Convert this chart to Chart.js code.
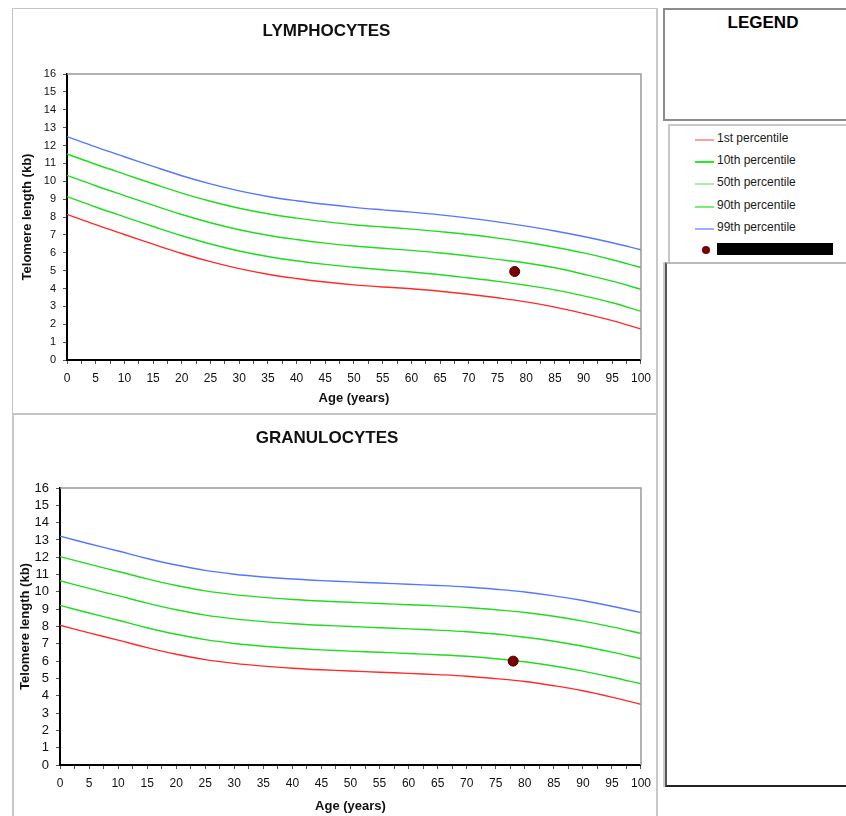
<!DOCTYPE html>
<html>
<head>
<meta charset="utf-8">
<script src="https://cdn.jsdelivr.net/npm/chart.js@4/dist/chart.umd.min.js"></script>
<style>
  html, body { margin:0; padding:0; background:#fff; width:846px; height:816px; overflow:hidden; font-family:"Liberation Sans", Arial, sans-serif; }
  .box { position:absolute; box-sizing:border-box; }
  #p1 { left:12px; top:8px; width:646px; height:406px; border:1px solid #c4c4c4; border-right:2px solid #c8c8c8; }
  #p2 { left:12px; top:414px; width:646px; height:410px; border:1px solid #c4c4c4; border-left:2px solid #c8c8c8; border-right:2px solid #c8c8c8; }
  #c1wrap { left:12px; top:8px; width:646px; height:406px; }
  #c2wrap { left:12px; top:414px; width:646px; height:402px; }
  #legTitle { left:663px; top:8px; width:190px; height:113px; border:2px solid #8c8c8c; border-right:none; text-align:center; font-weight:bold; font-size:17px; color:#000; }
  #legTitle span { position:absolute; left:0; width:196px; top:3px; text-align:center; }
  #legBox { left:668px; top:124px; width:185px; height:139px; border:2px solid #c8c8c8; border-right:none; border-bottom:none; }
  #blank { left:665px; top:262px; width:190px; height:525px; border-top:2px solid #bbb; border-left:2px solid #555; border-bottom:2px solid #222; box-shadow:-2px 0 0 #ccc; }
  .row { position:absolute; left:0; height:14px; font-size:12px; color:#1a1a1a; white-space:nowrap; }
  .row .ln { position:absolute; left:25px; top:7px; width:19px; height:1.5px; }
  .row .tx { position:absolute; left:47px; top:-1px; }
  .dot { position:absolute; left:32px; top:3px; width:8px; height:8px; border-radius:50%; background:#7a0000; }
  .redact { position:absolute; left:47px; top:0px; width:116px; height:12px; background:#000; color:#000; font-size:11px; line-height:12px; overflow:hidden; }
</style>
</head>
<body>
<div class="box" id="p1"></div>
<div class="box" id="p2"></div>
<div class="box" id="c1wrap"><canvas id="c1" width="646" height="406"></canvas></div>
<div class="box" id="c2wrap"><canvas id="c2" width="646" height="402"></canvas></div>
<div class="box" id="legTitle"><span>LEGEND</span></div>
<div class="box" id="legBox"></div>
<div class="box" id="blank"></div>
<script>
// ---------- DATA ----------
const ages = [0,5,10,15,20,25,30,35,40,45,50,55,60,65,70,75,80,85,90,95,100];
const xTickValues = [0,5,10,15,20,25,30,35,40,45,50,55,60,65,70,75,80,85,90,95,100];
const yTickValues = [0,1,2,3,4,5,6,7,8,9,10,11,12,13,14,15,16];

const seriesNames = ["1st percentile","10th percentile","50th percentile","90th percentile","99th percentile"];
const patientLabel = "Patient";

// Lymphocytes (kb)
const lymP1  = [8.15,7.57,7.02,6.48,5.96,5.50,5.11,4.80,4.56,4.36,4.20,4.08,3.99,3.85,3.68,3.48,3.25,2.96,2.60,2.20,1.73];
const lymP10 = [9.14,8.56,8.01,7.47,6.95,6.49,6.10,5.79,5.55,5.35,5.19,5.05,4.92,4.77,4.59,4.40,4.18,3.92,3.59,3.20,2.73];
const lymP50 = [10.33,9.75,9.20,8.66,8.14,7.68,7.29,6.98,6.74,6.54,6.38,6.25,6.13,5.99,5.82,5.63,5.43,5.16,4.80,4.41,3.96];
const lymP90 = [11.53,10.95,10.40,9.86,9.34,8.88,8.49,8.18,7.94,7.74,7.57,7.44,7.32,7.18,7.02,6.82,6.59,6.31,5.99,5.61,5.17];
const lymP99 = [12.50,11.92,11.37,10.83,10.31,9.85,9.46,9.15,8.91,8.71,8.54,8.40,8.27,8.12,7.94,7.73,7.49,7.22,6.91,6.56,6.17];
const lymPatientAge = [78];
const lymPatientValue = [4.95];

// Granulocytes (kb)
const graP1  = [8.07,7.63,7.21,6.78,6.40,6.09,5.87,5.71,5.59,5.50,5.43,5.36,5.29,5.22,5.13,4.99,4.82,4.58,4.29,3.92,3.50];
const graP10 = [9.22,8.78,8.36,7.93,7.55,7.24,7.02,6.86,6.74,6.65,6.58,6.51,6.44,6.37,6.28,6.14,5.96,5.72,5.42,5.07,4.69];
const graP50 = [10.64,10.20,9.78,9.35,8.97,8.66,8.44,8.28,8.16,8.07,8.00,7.93,7.86,7.79,7.70,7.57,7.38,7.15,6.86,6.52,6.14];
const graP90 = [12.04,11.60,11.18,10.75,10.37,10.06,9.84,9.68,9.56,9.47,9.40,9.33,9.26,9.19,9.10,8.97,8.81,8.59,8.31,7.98,7.60];
const graP99 = [13.22,12.78,12.36,11.93,11.55,11.24,11.02,10.86,10.74,10.65,10.58,10.51,10.44,10.37,10.28,10.15,9.99,9.77,9.50,9.17,8.80];
const graPatientAge = [78];
const graPatientValue = [6.0];

// ---------- STYLE ----------
const lineColors = ["#ff2b2b","#1fdc1f","#1fdc1f","#1fdc1f","#5577ff"];
const legendColors = ["#ffa0a0","#22ee22","#a6f2a6","#78ee78","#a0acff"];
const FONT = '"Liberation Sans", Arial, sans-serif';

// legend (HTML)
(function(){
  const box = document.getElementById('legBox');
  const rowsY = [6, 28, 50, 73, 95];
  seriesNames.forEach((n,i)=>{
    const r = document.createElement('div'); r.className='row'; r.style.top = rowsY[i]+'px';
    r.innerHTML = '<div class="ln" style="background:'+legendColors[i]+'"></div><div class="tx">'+n+'</div>';
    box.appendChild(r);
  });
  const r = document.createElement('div'); r.className='row'; r.style.top='117px';
  r.innerHTML = '<div class="dot"></div><div class="redact">'+patientLabel+'</div>';
  box.appendChild(r);
})();

const frame = {
  id:'frame',
  afterDatasetsDraw(chart){
    const {ctx, chartArea:a} = chart;
    ctx.save();
    ctx.strokeStyle = '#9a9a9a'; ctx.lineWidth = 1.5;
    ctx.beginPath();
    ctx.moveTo(a.left, a.top); ctx.lineTo(a.right, a.top); ctx.lineTo(a.right, a.bottom);
    ctx.stroke();
    ctx.restore();
  }
};

function makeChart(id, title, p1, p10, p50, p90, p99, pAge, pVal, g) {
  const series = [p1,p10,p50,p90,p99];
  const datasets = series.map((s,i)=>({
    type:'line', label: seriesNames[i],
    data: ages.map((a,k)=>({x:a, y:s[k]})),
    borderColor: lineColors[i], borderWidth: 1.4, pointRadius: 0,
    tension: 0.4, fill:false, order: 2
  }));
  datasets.push({
    type:'scatter', label: patientLabel,
    data: pAge.map((a,k)=>({x:a, y:pVal[k]})),
    backgroundColor:'#7a0000', borderColor:'#4a0000', borderWidth:1,
    pointRadius:5, order: 1
  });
  return new Chart(document.getElementById(id), {
    data: { datasets },
    plugins: [frame],
    options: {
      responsive:false, animation:false,
      layout: { padding: { left:0, right:g.padRight, top:0, bottom:g.padBottom } },
      plugins: {
        legend: { display:false }, tooltip: { enabled:false },
        title: { display:true, text:title, color:'#111',
          font:{ family:FONT, size:17, weight:'bold' },
          padding:{ top:g.titleTop, bottom:g.titleBottom } }
      },
      scales: {
        x: { type:'linear', min:0, max:100,
          afterBuildTicks(s){ s.ticks = []; for (let v=0; v<=100; v+=2.5) s.ticks.push({value:v}); },
          afterFit(s){ s.height = g.xH; },
          ticks:{ autoSkip:false, maxRotation:0, padding:7, color:'#111',
            font:{family:FONT, size:12},
            callback:(v)=> xTickValues.includes(v) ? String(v) : '' },
          grid:{ drawOnChartArea:false, drawTicks:true, tickLength:4, color:'#555' },
          border:{ display:true, color:'#000', width:2 },
          title:{ display:true, text:'Age (years)', color:'#111',
            font:{family:FONT, size:13, weight:'bold'}, padding:{top:0,bottom:2} } },
        y: { type:'linear', min:0, max:16,
          afterBuildTicks(s){ s.ticks = yTickValues.map(v=>({value:v})); },
          afterFit(s){ s.width = g.yW; },
          ticks:{ autoSkip:false, padding:g.yPad, color:'#111',
            font:{family:FONT, size:g.yFont} },
          grid:{ drawOnChartArea:false, drawTicks:true, tickLength:4, color:'#555' },
          border:{ display:true, color:'#000', width:2 },
          title:{ display:true, text:'Telomere length (kb)', color:'#111',
            font:{family:FONT, size:13, weight:'bold'}, padding:{top:g.yTitleTop, bottom:0} } }
      }
    }
  });
}

makeChart('c1', 'LYMPHOCYTES', lymP1, lymP10, lymP50, lymP90, lymP99, lymPatientAge, lymPatientValue,
  { padRight:17, padBottom:6, titleTop:13, titleBottom:32.6, xH:48, yW:55, yPad:7, yFont:11, yTitleTop:8 });
makeChart('c2', 'GRANULOCYTES', graP1, graP10, graP50, graP90, graP99, graPatientAge, graPatientValue,
  { padRight:16, padBottom:0, titleTop:14, titleBottom:39.6, xH:51, yW:48, yPad:7, yFont:13, yTitleTop:6 });
</script>
</body>
</html>
